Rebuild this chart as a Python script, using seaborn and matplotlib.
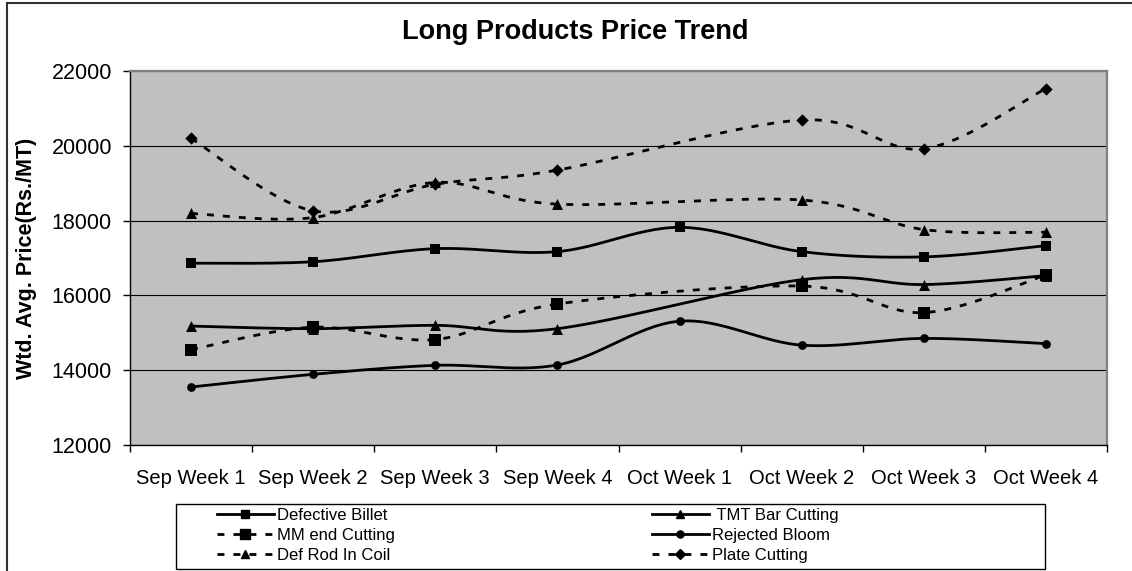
import numpy as np
import pandas as pd
import matplotlib
matplotlib.use("Agg")
import matplotlib.pyplot as plt
from matplotlib.lines import Line2D
from matplotlib.patches import Rectangle
import seaborn as sns

# categories and weekly prices (None = no entry that week)
weeks = ["Sep Week 1", "Sep Week 2", "Sep Week 3", "Sep Week 4",
         "Oct Week 1", "Oct Week 2", "Oct Week 3", "Oct Week 4"]
defective_billet = [16860, 16900, 17250, 17170, 17820, 17170, 17030, 17330]
tmt_bar_cutting = [15180, 15110, 15200, 15110, None, 16420, 16290, 16530]
mm_end_cutting = [14550, 15150, 14820, 15770, None, 16250, 15540, 16550]
rejected_bloom = [13550, 13890, 14130, 14140, 15310, 14670, 14850, 14710]
def_rod_in_coil = [18190, 18080, 19020, 18440, None, 18550, 17760, 17690]
plate_cutting = [20200, 18260, 18970, 19350, None, 20690, 19920, 21530]

plt.rcParams["font.family"] = ["Liberation Sans", "DejaVu Sans"]
plt.rcParams["lines.scale_dashes"] = False

DASH = (0, (5, 6.5))
series = [
    ("Defective Billet", defective_billet, "-", "s", 6.5),
    ("MM end Cutting", mm_end_cutting, DASH, "s", 8),
    ("Def Rod In Coil", def_rod_in_coil, DASH, "^", 7.5),
    (" TMT Bar Cutting", tmt_bar_cutting, "-", "^", 7.5),
    ("Rejected Bloom", rejected_bloom, "-", "o", 6),
    ("Plate Cutting", plate_cutting, DASH, "D", 6),
]


def smooth(vals, n=30):
    # Excel-like smoothed line (bezier through the points, gaps connected)
    pts = np.array([(i, v) for i, v in enumerate(vals) if v is not None], float)
    out = []
    for i in range(len(pts) - 1):
        p0 = pts[i - 1] if i > 0 else pts[i]
        p1, p2 = pts[i], pts[i + 1]
        p3 = pts[i + 2] if i + 2 < len(pts) else pts[i + 1]
        c1 = p1 + (p2 - p0) / 6
        c2 = p2 - (p3 - p1) / 6
        t = np.linspace(0, 1, n)[:, None]
        seg = (1 - t) ** 3 * p1 + 3 * (1 - t) ** 2 * t * c1 + 3 * (1 - t) * t ** 2 * c2 + t ** 3 * p2
        out.append(seg if i == 0 else seg[1:])
    return np.vstack(out)


fig = plt.figure(figsize=(11.32, 5.71), dpi=100)
ax = fig.add_axes([130 / 1132, 1 - 445 / 571, 977 / 1132, 374 / 571])
ax.set_facecolor("#C0C0C0")

handles = []
for name, vals, ls, mk, ms in series:
    curve = smooth(vals)
    sns.lineplot(x=curve[:, 0], y=curve[:, 1], sort=False, estimator=None,
                 color="black", linewidth=2, linestyle=ls, ax=ax, zorder=3)
    y = pd.Series([np.nan if v is None else v for v in vals], dtype=float)
    sns.scatterplot(x=np.arange(len(weeks)), y=y, marker=mk, s=(ms * 1.05) ** 2,
                    color="black", edgecolor="black", linewidth=0, ax=ax, zorder=4)
    handles.append(Line2D([], [], color="black", lw=2, linestyle=ls,
                          marker=mk, markersize=ms * 0.85, label=name))

ax.set_xlim(-0.5, len(weeks) - 0.5)
ax.set_ylim(12000, 22000)
ax.set_yticks(range(12000, 22001, 2000))
ax.set_xticks(np.arange(-0.5, len(weeks), 1.0))
ax.set_xticklabels([])
ax.set_xticks(np.arange(len(weeks)), minor=True)
ax.set_xticklabels(weeks, minor=True)
ax.tick_params(axis="x", which="major", length=5, width=1, color="black", direction="out")
ax.tick_params(axis="x", which="minor", length=0, pad=17.5, labelsize=14.5)
ax.tick_params(axis="y", length=5, width=1, direction="out", pad=8, labelsize=15.5)
ax.yaxis.grid(True, color="black", linewidth=0.8)
ax.set_axisbelow(True)
for s in ["left", "bottom"]:
    ax.spines[s].set_color("black")
    ax.spines[s].set_linewidth(1)
for s in ["top", "right"]:
    ax.spines[s].set_color("#808080")
    ax.spines[s].set_linewidth(1.6)
ax.set_xlabel("")
ax.set_ylabel("")

fig.text(27 / 1132, 1 - 258 / 571, "Wtd. Avg. Price(Rs./MT)", rotation=90,
         ha="center", va="center", fontsize=15.5, fontweight="bold")
fig.text(575 / 1132, 1 - 32 / 571, "Long Products Price Trend",
         ha="center", va="center", fontsize=19.5, fontweight="bold")

# outer chart border and legend box
fig.add_artist(Rectangle((7 / 1132, -0.1), 1.2, 1.1 - 3 / 571, transform=fig.transFigure,
                         fill=False, edgecolor="#303030", linewidth=1.5))
fig.add_artist(Rectangle((176 / 1132, 1 - 569 / 571), 869 / 1132, 65 / 571,
                         transform=fig.transFigure, fill=False, edgecolor="black", linewidth=1))

leg_kw = dict(loc="upper left", frameon=False, fontsize=12, borderpad=0, borderaxespad=0,
              handlelength=3.4, handletextpad=0.2, labelspacing=0.3,
              bbox_transform=fig.transFigure)
leg1 = fig.legend(handles=handles[:3], bbox_to_anchor=(217 / 1132, 1 - 508 / 571), **leg_kw)
leg2 = fig.legend(handles=handles[3:], bbox_to_anchor=(652 / 1132, 1 - 508 / 571), **leg_kw)
if ax.get_legend():
    ax.get_legend().remove()

fig.savefig("out.png", dpi=100)
